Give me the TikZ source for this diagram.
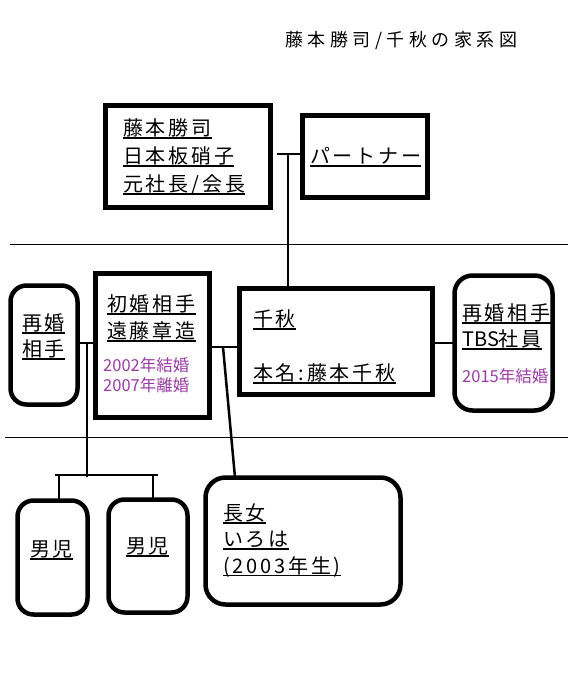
\documentclass[tikz,border=0pt]{standalone}
\usepackage{fontspec}
\newfontfamily\jp[LetterSpace=14]{Noto Sans CJK JP}
\newfontfamily\jpt[LetterSpace=25]{Noto Sans CJK JP}
\newfontfamily\jpn{Noto Sans CJK JP}
\definecolor{dpurple}{RGB}{155,60,165}
\newcommand\ulin[1]{\setbox0\hbox{#1}\leavevmode\rlap{\rule[-3.2pt]{\wd0}{1.6pt}}\box0}
\begin{document}
\begin{tikzpicture}[x=1pt,y=-1pt,
  sqbox/.style={draw,line width=4.5pt,rectangle,inner sep=0pt,outer sep=0pt},
  rbox/.style={draw,line width=4.5pt,rectangle,rounded corners=16pt,inner sep=0pt,outer sep=0pt},
  txt/.style={anchor=base west,inner sep=0pt,font=\jp\fontsize{20}{24}\selectfont},
  ptxt/.style={anchor=base west,inner sep=0pt,text=dpurple,font=\jpn\fontsize{16.5}{20}\selectfont},
  conn/.style={line width=2.5pt},
  thin/.style={line width=1pt}]
\useasboundingbox (0,0) rectangle (568,693);
\fill[white] (0,0) rectangle (568,693);

% title
\node[anchor=base west,inner sep=0pt,font=\jpt\fontsize{18}{22}\selectfont] (title) at (285,46.5) {藤本勝司/千秋の家系図};

% boxes
\node[sqbox,minimum width=165pt,minimum height=102pt] (katsushi) at (188,156.5) {};
\node[sqbox,minimum width=125pt,minimum height=82pt] (partner) at (365,156.5) {};
\node[rbox,minimum width=67pt,minimum height=119pt] (saikon) at (44,345) {};
\node[sqbox,minimum width=114pt,minimum height=144pt] (shokon) at (152.5,345.5) {};
\node[sqbox,minimum width=193pt,minimum height=106pt] (chiaki) at (336,341.5) {};
\node[rbox,rounded corners=18pt,minimum width=98pt,minimum height=135pt] (tbs) at (503.5,343) {};
\node[rbox,minimum width=70pt,minimum height=114pt] (son1) at (52.5,557.5) {};
\node[rbox,minimum width=79pt,minimum height=113pt] (son2) at (148,556) {};
\node[rbox,rounded corners=20pt,minimum width=195pt,minimum height=127pt] (choujo) at (303,541) {};

% texts
\node[txt] (k1) at (123,135.5) {\ulin{藤本勝司}};
\node[txt] (k2) at (123,163.5) {\ulin{日本板硝子}};
\node[txt] (k3) at (123,191.5) {\ulin{元社長/会長}};
\node[txt] (p1) at (310,163.5) {\ulin{パートナー}};
\node[txt] (s1) at (22,330.5) {\ulin{再婚}};
\node[txt] (s2) at (22,356.5) {\ulin{相手}};
\node[txt] (e1) at (107,311.5) {\ulin{初婚相手}};
\node[txt] (e2) at (107,338.5) {\ulin{遠藤章造}};
\node[ptxt] (e3) at (103,371) {2002年結婚};
\node[ptxt] (e4) at (103,391) {2007年離婚};
\node[txt] (c1) at (253,326.5) {\ulin{千秋}};
\node[txt] (c2) at (253,380.5) {\ulin{本名:藤本千秋}};
\node[txt] (t1) at (462,320.5) {\ulin{再婚相手}};
\node[txt] (t2) at (462,346.5) {\ulin{{\jpn TBS}社員}};
\node[ptxt] (t3) at (462,382) {2015年結婚};
\node[txt] (b1) at (30,556.5) {\ulin{男児}};
\node[txt] (b2) at (126,553.5) {\ulin{男児}};
\node[txt] (d1) at (223,520.5) {\ulin{長女}};
\node[txt] (d2) at (223,546.5) {\ulin{いろは}};
\node[txt] (d3) at (223,573) {\ulin{(2003年生)}};

% separator lines
\coordinate (la) at (10,244); \coordinate (lb) at (568,244);
\coordinate (lc) at (5,437); \coordinate (ld) at (568,437);
\draw[thin] (la) -- (lb);
\draw[thin] (lc) -- (ld);

% connectors
\coordinate (tl) at (277,154);
\coordinate (tj) at (288,154);
\draw[conn] (tl) -- (tl -| partner.west);
\draw[conn] (tj) -- (tj |- chiaki.north);

\coordinate (m1) at (87,343);
\draw[conn] (saikon.east |- m1) -- (shokon.west |- m1);
\coordinate (kb) at (87,477);
\draw[conn] (m1) -- (kb);
\coordinate (bl) at (55,475); \coordinate (br) at (158,475);
\draw[conn] (bl) -- (br);
\coordinate (d1t) at (59,475); \coordinate (d2t) at (153,475);
\draw[conn] (d1t) -- (d1t |- son1.north);
\draw[conn] (d2t) -- (d2t |- son2.north);

\coordinate (m2) at (223,347);
\draw[conn] (shokon.east |- m2) -- (chiaki.west |- m2);
\coordinate (m2b) at (235,0);
\draw[conn] (m2) -- (m2b |- choujo.north);

\coordinate (m3) at (440,343);
\draw[conn] (chiaki.east |- m3) -- (tbs.west |- m3);
\end{tikzpicture}
\end{document}
